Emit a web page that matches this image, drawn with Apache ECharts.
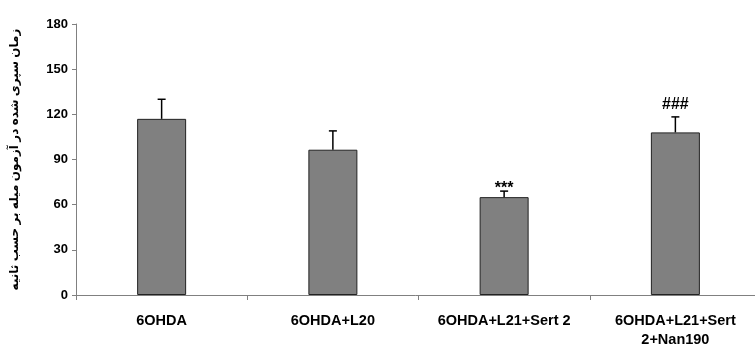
<!DOCTYPE html>
<html>
<head>
<meta charset="utf-8">
<script src="https://cdn.jsdelivr.net/npm/echarts@6/dist/echarts.min.js"></script>
<style>html,body{margin:0;padding:0;background:#fff;}#main{width:755px;height:345px;}</style>
</head>
<body>
<div id="main"></div>
<script>
var categories = ["6OHDA", "6OHDA+L20", "6OHDA+L21+Sert 2", "6OHDA+L21+Sert\n2+Nan190"];
var means = [117, 96.5, 65, 108];
var errors = [13, 12.5, 4, 10.3];
var marks = ["", "", "***", "###"];
var yTicks = {min: 0, max: 180, interval: 30};
var yTitle = "زمان سپری شده در آزمون میله بر حسب ثانیه";

var font = 'Arial, "Liberation Sans", "DejaVu Sans", sans-serif';
var chart = echarts.init(document.getElementById('main'), null, {renderer: 'canvas'});
var errData = means.map(function (m, i) { return [i, m, errors[i], marks[i]]; });

chart.setOption({
  animation: false,
  backgroundColor: '#fff',
  grid: {left: 76, width: 685, top: 24, height: 271, containLabel: false, outerBoundsMode: 'none'},
  xAxis: {
    type: 'category',
    data: categories,
    axisLine: {lineStyle: {color: '#808080', width: 1}},
    axisTick: {show: true, length: 5, lineStyle: {color: '#808080'}},
    axisLabel: {interval: 0, margin: 16, color: '#000', fontFamily: font, fontWeight: 'bold', fontSize: 14.5, lineHeight: 19}
  },
  yAxis: {
    type: 'value',
    min: yTicks.min, max: yTicks.max, interval: yTicks.interval,
    name: yTitle,
    nameLocation: 'middle',
    nameRotate: 90,
    nameGap: 55,
    nameTextStyle: {color: '#000', fontFamily: font, fontWeight: 'bold', fontSize: 12},
    axisLine: {show: true, lineStyle: {color: '#808080', width: 1}},
    axisTick: {show: true, length: 4, lineStyle: {color: '#808080'}},
    splitLine: {show: false},
    axisLabel: {margin: 8, color: '#000', fontFamily: font, fontWeight: 'bold', fontSize: 13}
  },
  series: [
    {
      type: 'bar',
      data: means,
      barWidth: 49,
      itemStyle: {color: '#808080', borderColor: '#222', borderWidth: 1}
    },
    {
      type: 'custom',
      data: errData,
      z: 10,
      renderItem: function (params, api) {
        var i = api.value(0), m = api.value(1), e = api.value(2);
        var base = api.coord([i, m]);
        var top = api.coord([i, m + e]);
        var children = [
          {type: 'line', shape: {x1: base[0], y1: base[1], x2: top[0], y2: top[1]}, style: {stroke: '#000', lineWidth: 1.5}},
          {type: 'line', shape: {x1: top[0] - 4, y1: top[1], x2: top[0] + 4, y2: top[1]}, style: {stroke: '#000', lineWidth: 1.5}}
        ];
        var mk = marks[params.dataIndex];
        if (mk) {
          children.push({type: 'text', style: {
            text: mk, x: top[0], y: top[1] + (mk === '###' ? -4 : 5),
            align: 'center', verticalAlign: 'bottom',
            fill: '#000', font: 'bold 16px ' + font
          }});
        }
        return {type: 'group', children: children};
      }
    }
  ]
});
</script>
</body>
</html>
